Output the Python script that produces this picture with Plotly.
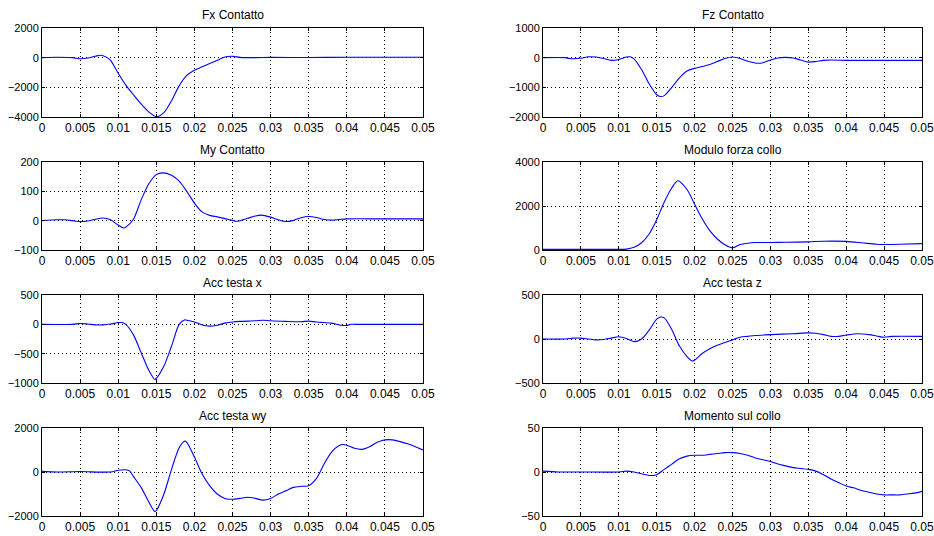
import plotly.graph_objects as go

# ---- data (time in s) ----
fx_t = [0, 0.002, 0.004, 0.005, 0.006, 0.007, 0.0078, 0.0085, 0.009, 0.010, 0.011, 0.012, 0.013,
        0.014, 0.015, 0.016, 0.017, 0.018, 0.019, 0.020, 0.021, 0.022, 0.023, 0.024, 0.025, 0.026,
        0.028, 0.030, 0.035, 0.040, 0.045, 0.05]
fx_v = [0, 30, 0, -70, -20, 100, 165, 20, -180, -1050, -1850, -2500, -3120, -3650, -3980, -3700,
        -2900, -1900, -1200, -850, -620, -400, -180, 40, 90, 20, 0, 20, 10, 30, 30, 30]

fz_t = [0, 0.003, 0.0035, 0.005, 0.006, 0.007, 0.008, 0.009, 0.010, 0.011, 0.0115, 0.012, 0.013,
        0.014, 0.015, 0.0155, 0.016, 0.017, 0.018, 0.019, 0.020, 0.021, 0.022, 0.023, 0.024, 0.025,
        0.026, 0.027, 0.028, 0.0285, 0.029, 0.030, 0.031, 0.032, 0.033, 0.034, 0.035, 0.036, 0.037,
        0.038, 0.040, 0.045, 0.05]
fz_v = [0, 0, -30, -20, 30, 20, -30, -90, -60, 20, 30, -40, -400, -880, -1250, -1310, -1280, -1000,
        -680, -450, -360, -300, -230, -130, -30, 20, -30, -120, -180, -190, -170, -80, -10, 10, -10,
        -80, -150, -130, -90, -80, -90, -90, -90]

my_t = [0, 0.002, 0.003, 0.004, 0.005, 0.006, 0.007, 0.008, 0.009, 0.010, 0.0107, 0.011, 0.012,
        0.013, 0.014, 0.015, 0.0158, 0.017, 0.018, 0.019, 0.020, 0.021, 0.022, 0.023, 0.024, 0.025,
        0.0255, 0.026, 0.027, 0.028, 0.0288, 0.030, 0.031, 0.032, 0.033, 0.034, 0.035, 0.036, 0.037,
        0.038, 0.039, 0.040, 0.045, 0.05]
my_v = [0, 3, 3, 0, -3, -1, 5, 9, 3, -15, -25, -22, 5, 70, 125, 157, 163, 155, 135, 100, 60, 30, 18,
        13, 7, 1, -2, 0, 8, 16, 19, 12, 3, -3, 1, 10, 14, 11, 4, 2, 4, 6, 6, 6]

mod_t = [0, 0.005, 0.010, 0.011, 0.012, 0.013, 0.014, 0.015, 0.016, 0.017, 0.0178, 0.019, 0.020,
         0.021, 0.022, 0.023, 0.024, 0.025, 0.026, 0.027, 0.028, 0.030, 0.032, 0.035, 0.037, 0.040,
         0.042, 0.044, 0.045, 0.047, 0.05]
mod_v = [30, 30, 30, 40, 120, 330, 730, 1380, 2180, 2830, 3150, 2750, 2080, 1420, 880, 500, 240,
         100, 250, 310, 340, 340, 350, 370, 400, 390, 330, 260, 250, 260, 290]

ax_t = [0, 0.004, 0.005, 0.006, 0.007, 0.008, 0.009, 0.010, 0.0105, 0.011, 0.012, 0.013, 0.014,
        0.0148, 0.015, 0.016, 0.017, 0.018, 0.0187, 0.019, 0.020, 0.021, 0.022, 0.023, 0.024, 0.025,
        0.026, 0.028, 0.029, 0.030, 0.032, 0.034, 0.035, 0.036, 0.037, 0.038, 0.039, 0.040, 0.0405,
        0.041, 0.045, 0.05]
ax_v = [0, 0, 15, 5, -10, -10, 5, 30, 30, 0, -180, -480, -780, -940, -920, -710, -370, 0, 75, 70,
        40, -10, -30, -15, 20, 40, 50, 60, 70, 60, 50, 45, 55, 40, 30, 20, -10, -20, 0, 0, 0, 0]

az_t = [0, 0.003, 0.004, 0.005, 0.006, 0.007, 0.008, 0.009, 0.010, 0.011, 0.012, 0.013, 0.014,
        0.015, 0.0155, 0.016, 0.017, 0.018, 0.019, 0.0197, 0.020, 0.021, 0.022, 0.023, 0.024, 0.025,
        0.026, 0.027, 0.028, 0.030, 0.033, 0.035, 0.036, 0.037, 0.038, 0.039, 0.040, 0.0415, 0.043,
        0.044, 0.045, 0.046, 0.05]
az_v = [0, 0, 10, 10, 0, -10, -5, 10, 25, 5, -30, 0, 100, 225, 250, 240, 105, -80, -200, -250, -240,
        -165, -110, -70, -40, -10, 20, 30, 40, 50, 60, 70, 65, 50, 30, 30, 45, 60, 50, 35, 20, 30, 30]

wy_t = [0, 0.002, 0.005, 0.009, 0.010, 0.011, 0.0115, 0.012, 0.013, 0.014, 0.0148, 0.015, 0.016,
        0.017, 0.018, 0.0187, 0.019, 0.020, 0.021, 0.022, 0.023, 0.024, 0.025, 0.026, 0.027, 0.028,
        0.029, 0.030, 0.031, 0.032, 0.033, 0.034, 0.035, 0.036, 0.0365, 0.037, 0.038, 0.039, 0.0395,
        0.040, 0.041, 0.042, 0.043, 0.044, 0.045, 0.046, 0.047, 0.048, 0.049, 0.05]
wy_v = [30, 0, 20, 0, 80, 100, 50, -200, -700, -1350, -1800, -1750, -1000, 120, 1100, 1400, 1350,
        680, -80, -620, -1000, -1200, -1240, -1200, -1150, -1200, -1280, -1200, -1000, -850, -700,
        -650, -620, -300, 0, 350, 900, 1200, 1250, 1220, 1080, 1030, 1150, 1350, 1460, 1460, 1380,
        1280, 1150, 1000]

mc_t = [0, 0.002, 0.005, 0.010, 0.011, 0.012, 0.013, 0.014, 0.015, 0.016, 0.017, 0.018, 0.019,
        0.020, 0.021, 0.022, 0.023, 0.024, 0.025, 0.026, 0.027, 0.028, 0.029, 0.030, 0.031, 0.032,
        0.033, 0.034, 0.035, 0.036, 0.037, 0.038, 0.039, 0.040, 0.041, 0.042, 0.043, 0.044, 0.045,
        0.046, 0.047, 0.048, 0.049, 0.05]
mc_v = [1, 0, 0, 0, 1, 0, -2, -4, -3, 3, 9, 15, 18, 19, 19, 20, 21, 22, 22, 21, 19, 16, 14, 12, 9, 7,
        5, 4, 3, 1, -3, -8, -12, -16, -18, -21, -23, -25, -26, -26, -26, -25, -24, -22]

titles = ["Fx Contatto", "Fz Contatto", "My Contatto", "Modulo forza collo",
          "Acc testa x", "Acc testa z", "Acc testa wy", "Momento sul collo"]
series = [(fx_t, fx_v), (fz_t, fz_v), (my_t, my_v), (mod_t, mod_v),
          (ax_t, ax_v), (az_t, az_v), (wy_t, wy_v), (mc_t, mc_v)]
y_ranges = [[-4000, 2000], [-2000, 1000], [-100, 200], [0, 4000],
            [-1000, 500], [-500, 500], [-2000, 2000], [-50, 50]]
y_ticks = [[-4000, -2000, 0, 2000], [-2000, -1000, 0, 1000], [-100, 0, 100, 200], [0, 2000, 4000],
           [-1000, -500, 0, 500], [-500, 0, 500], [-2000, 0, 2000], [-50, 0, 50]]
x_tickvals = [0, 0.005, 0.01, 0.015, 0.02, 0.025, 0.03, 0.035, 0.04, 0.045, 0.05]
x_ticktext = ["0", "0.005", "0.01", "0.015", "0.02", "0.025", "0.03", "0.035", "0.04", "0.045", "0.05"]

# ---- layout geometry (pixels) ----
W, H = 934, 536
col_px = [(42, 423), (543, 922)]
row_px = [(28, 117), (162, 250), (295, 383), (428, 516)]

fig = go.Figure()
layout = dict(width=W, height=H, margin=dict(l=0, r=0, t=0, b=0, autoexpand=False),
              paper_bgcolor="white", plot_bgcolor="white", showlegend=False,
              font=dict(family="Arial", color="black"))
annotations = []

for i, (title, (t, v)) in enumerate(zip(titles, series)):
    r, c = divmod(i, 2)
    n = i + 1
    xa = "x" if n == 1 else f"x{n}"
    ya = "y" if n == 1 else f"y{n}"
    fig.add_trace(go.Scatter(x=t, y=v, mode="lines", xaxis=xa, yaxis=ya,
                             line=dict(color="#0000ff", width=1.1, shape="spline", smoothing=0.8)))
    x0, x1 = col_px[c]
    y0, y1 = row_px[r]
    common = dict(showline=True, linecolor="black", linewidth=1, mirror="ticks",
                  ticks="inside", ticklen=3, tickcolor="black", automargin=False,
                  ticklabeloverflow="allow",
                  showgrid=True, gridcolor="black", gridwidth=1, griddash="1px,3px",
                  zeroline=False)
    layout["xaxis" if n == 1 else f"xaxis{n}"] = dict(
        domain=[x0 / W, x1 / W], range=[0, 0.05], anchor=ya,
        tickvals=x_tickvals, ticktext=x_ticktext, tickfont=dict(size=12), **common)
    layout["yaxis" if n == 1 else f"yaxis{n}"] = dict(
        domain=[1 - y1 / H, 1 - y0 / H], range=y_ranges[i], anchor=xa,
        tickvals=y_ticks[i], tickfont=dict(size=11), **common)
    annotations.append(dict(text=title, x=(x0 + x1) / 2 / W, y=1 - (y0 - 12.5) / H,
                            xref="paper", yref="paper", xanchor="center", yanchor="middle",
                            showarrow=False, font=dict(size=12, color="black")))

layout["annotations"] = annotations
fig.update_layout(**layout)
fig.write_html("out.html")
